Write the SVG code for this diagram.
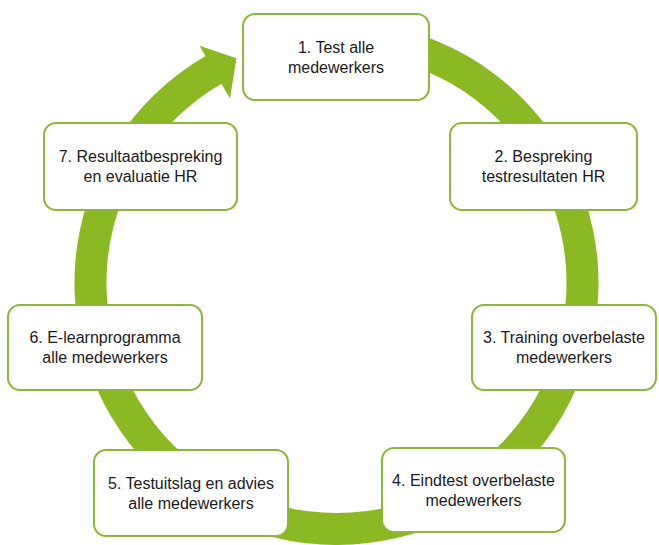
<svg xmlns="http://www.w3.org/2000/svg" width="659" height="545" viewBox="0 0 659 545">
<style>
.box{fill:#ffffff;stroke:#8cb83a;stroke-width:2}
.ring{fill:#8bb923}
text{font-family:"Liberation Sans",Arial,sans-serif;font-size:16px;fill:#1a1a1a;text-anchor:middle}
</style>
<rect width="659" height="545" fill="#ffffff"/>
<g id="connectors">
<path class="ring" d="M313.66,22 A262,262 0 1 1 205.5,56.1 L199.5,45.71 L236.44,58.27 L230,98.54 L221.5,83.81 A230,230 0 1 0 316.45,53.88 Z"/>
</g>
<g id="node1"><rect class="box" x="243" y="14" width="186" height="86" rx="12"/><text x="336" y="52.5">1. Test alle</text><text x="336" y="72.5">medewerkers</text></g>
<g id="node2"><rect class="box" x="450" y="123" width="187" height="87" rx="12"/><text x="543.5" y="162">2. Bespreking</text><text x="543.5" y="182">testresultaten HR</text></g>
<g id="node3"><rect class="box" x="472" y="305" width="184" height="85" rx="12"/><text x="564" y="343">3. Training overbelaste</text><text x="564" y="363">medewerkers</text></g>
<g id="node4"><rect class="box" x="382" y="448" width="183" height="84" rx="12"/><text x="473.5" y="485.5">4. Eindtest overbelaste</text><text x="473.5" y="505.5">medewerkers</text></g>
<g id="node5"><rect class="box" x="94" y="450" width="194" height="86" rx="12"/><text x="191" y="488.5">5. Testuitslag en advies</text><text x="191" y="508.5">alle medewerkers</text></g>
<g id="node6"><rect class="box" x="8" y="305" width="194" height="85" rx="12"/><text x="105" y="343">6. E-learnprogramma</text><text x="105" y="363">alle medewerkers</text></g>
<g id="node7"><rect class="box" x="44" y="123" width="193" height="87" rx="12"/><text x="140.5" y="162">7. Resultaatbespreking</text><text x="140.5" y="182">en evaluatie HR</text></g>
</svg>
